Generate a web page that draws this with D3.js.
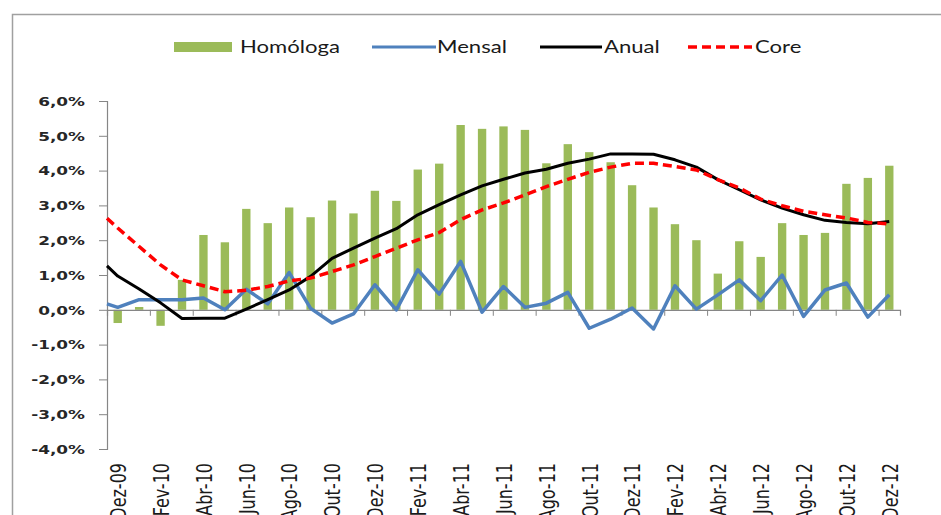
<!DOCTYPE html>
<html>
<head>
<meta charset="utf-8">
<script src="https://cdn.jsdelivr.net/npm/d3@7"></script>
<style>
  body { margin: 0; background: #fff; }
  svg { display: block; }
</style>
</head>
<body>
<svg id="chart" width="941" height="515"></svg>
<script>
// months Dez-09 .. Dez-12
const categories = [
  "Dez-09", "Jan-10", "Fev-10", "Mar-10", "Abr-10", "Mai-10", "Jun-10", "Jul-10", "Ago-10", "Set-10", "Out-10", "Nov-10",
  "Dez-10", "Jan-11", "Fev-11", "Mar-11", "Abr-11", "Mai-11", "Jun-11", "Jul-11", "Ago-11", "Set-11", "Out-11", "Nov-11",
  "Dez-11", "Jan-12", "Fev-12", "Mar-12", "Abr-12", "Mai-12", "Jun-12", "Jul-12", "Ago-12", "Set-12", "Out-12", "Nov-12",
  "Dez-12"
];

const homologa = [
  -0.38, 0.08, -0.46, 0.86, 2.15, 1.94, 2.90, 2.49, 2.94, 2.66,
  3.14, 2.77, 3.42, 3.13, 4.03, 4.20, 5.31, 5.20, 5.27, 5.17,
  4.21, 4.76, 4.53, 4.24, 3.58, 2.94, 2.46, 2.00, 1.04, 1.97,
  1.52, 2.49, 2.15, 2.21, 3.62, 3.79, 4.14
];

// lines start at the left edge of the plot with the Nov-09 value
const lineStart = "Nov-09";
const mensal = [
  0.17,
  0.07, 0.29, 0.29, 0.29, 0.34, 0.00, 0.59, 0.17, 1.07, 0.04,
  -0.38, -0.12, 0.72, 0.00, 1.15, 0.45, 1.39, -0.07, 0.67, 0.07,
  0.19, 0.50, -0.53, -0.27, 0.05, -0.55, 0.69, 0.02, 0.43, 0.86,
  0.26, 1.00, -0.19, 0.57, 0.77, -0.21, 0.43
];
const anual = [
  1.26,
  0.97, 0.60, 0.20, -0.25, -0.24, -0.24, 0.02, 0.29, 0.57, 0.96,
  1.48, 1.77, 2.06, 2.33, 2.73, 3.02, 3.30, 3.56, 3.75, 3.93,
  4.04, 4.21, 4.33, 4.48, 4.48, 4.47, 4.31, 4.10, 3.74, 3.45,
  3.16, 2.92, 2.73, 2.57, 2.51, 2.47, 2.54
];
const core = [
  2.63,
  2.35, 1.82, 1.29, 0.86, 0.69, 0.52, 0.56, 0.67, 0.83, 0.91,
  1.10, 1.29, 1.53, 1.77, 2.01, 2.22, 2.59, 2.87, 3.07, 3.30,
  3.54, 3.75, 3.95, 4.10, 4.21, 4.21, 4.12, 4.02, 3.74, 3.50,
  3.18, 2.99, 2.83, 2.73, 2.64, 2.51, 2.47
];

const yTicks = [6, 5, 4, 3, 2, 1, 0, -1, -2, -3, -4];
const yTickLabels = ["6,0%", "5,0%", "4,0%", "3,0%", "2,0%", "1,0%", "0,0%", "-1,0%", "-2,0%", "-3,0%", "-4,0%"];
const xTickLabels = categories.filter((d, i) => i % 2 === 0);

const legendNames = ["Homóloga", "Mensal", "Anual", "Core"];

const colors = { bar: "#9bbb59", mensal: "#4f81bd", anual: "#000000", core: "#ff0000" };
const SX = 1.3; // the original picture is stretched horizontally

const margin = { top: 101, left: 107 };
const innerWidth = 793;
const innerHeight = 348;

const svg = d3.select("#chart");

// chart frame
svg.append("rect")
  .attr("x", 12.5).attr("y", 14.5)
  .attr("width", 940).attr("height", 540)
  .attr("fill", "none")
  .attr("stroke", "#a0a0a0")
  .attr("stroke-width", 1.5);

const g = svg.append("g")
  .attr("transform", `translate(${margin.left},${margin.top})`);

const x = d3.scaleBand().domain(categories).range([0, innerWidth]);
const y = d3.scaleLinear().domain([-4, 6]).range([innerHeight, 0]);
const cx = c => x(c) + x.bandwidth() / 2;

// bars
const barW = x.bandwidth() * 0.39;
g.selectAll("rect.bar")
  .data(homologa)
  .join("rect")
  .attr("class", "bar")
  .attr("x", (d, i) => cx(categories[i]) - barW / 2)
  .attr("y", d => y(Math.max(0, d)))
  .attr("width", barW)
  .attr("height", d => Math.abs(y(d) - y(0)))
  .attr("fill", colors.bar);

// y axis
const yAxis = g.append("g")
  .call(d3.axisLeft(y).tickValues(yTicks).tickSize(8).tickFormat((d, i) => yTickLabels[i]));
yAxis.select(".domain").attr("stroke", "#868686").attr("stroke-width", 1.2);
yAxis.selectAll(".tick line").attr("stroke", "#868686");
yAxis.selectAll(".tick text")
  .attr("x", null).attr("dy", null)
  .attr("dominant-baseline", "central")
  .attr("transform", `translate(-22,0) scale(${SX},1)`)
  .attr("text-anchor", "end")
  .style("font-family", "'DejaVu Sans', sans-serif")
  .style("font-weight", "bold")
  .style("font-size", "13px")
  .attr("fill", "#262626");

// x axis on the zero line, ticks every two months
const xTick = d3.scaleLinear().domain([0, categories.length]).range([0, innerWidth]);
const xAxis = g.append("g")
  .attr("transform", `translate(0,${y(0)})`)
  .call(d3.axisBottom(xTick).tickValues(d3.range(0, categories.length, 2)).tickSize(6).tickFormat(""));
xAxis.select(".domain").attr("stroke", "#868686").attr("stroke-width", 1.2);
xAxis.selectAll(".tick line").attr("stroke", "#868686");

// category labels below the plot (cut by the bottom edge, as in the original)
g.append("g")
  .selectAll("text")
  .data(xTickLabels)
  .join("text")
  .attr("transform", d => `translate(${cx(d) + 1},${innerHeight + 14}) scale(${SX},1) rotate(-90)`)
  .attr("text-anchor", "end")
  .attr("dominant-baseline", "central")
  .style("font-family", "'DejaVu Sans', sans-serif")
  .style("font-size", "16px")
  .attr("fill", "#1a1a1a")
  .text(d => d);

// lines
const lineCats = [lineStart].concat(categories);
const lx = (d, i) => (i === 0 ? 0 : cx(lineCats[i]));
const line = d3.line().x(lx).y(d => y(d));

g.append("path").datum(mensal)
  .attr("d", line).attr("fill", "none")
  .attr("stroke", colors.mensal).attr("stroke-width", 3.5)
  .attr("stroke-linejoin", "round");
g.append("path").datum(anual)
  .attr("d", line).attr("fill", "none")
  .attr("stroke", colors.anual).attr("stroke-width", 3)
  .attr("stroke-linejoin", "round");
g.append("path").datum(core)
  .attr("d", line).attr("fill", "none")
  .attr("stroke", colors.core).attr("stroke-width", 3.5)
  .attr("stroke-dasharray", "9,5");

// legend
const legendY = 47;
const legendItems = [
  { name: legendNames[0], type: "bar", color: colors.bar, x0: 174, x1: 232, tx: 240 },
  { name: legendNames[1], type: "line", color: colors.mensal, x0: 372, x1: 436, tx: 437 },
  { name: legendNames[2], type: "line", color: colors.anual, x0: 540, x1: 602, tx: 604 },
  { name: legendNames[3], type: "dash", color: colors.core, x0: 688, x1: 752, tx: 755 }
];
const legend = svg.append("g");
legendItems.forEach(item => {
  if (item.type === "bar") {
    legend.append("rect")
      .attr("x", item.x0).attr("y", legendY - 5)
      .attr("width", item.x1 - item.x0).attr("height", 10)
      .attr("fill", item.color);
  } else {
    legend.append("line")
      .attr("x1", item.x0).attr("x2", item.x1)
      .attr("y1", legendY).attr("y2", legendY)
      .attr("stroke", item.color)
      .attr("stroke-width", item.type === "dash" ? 3.5 : 3)
      .attr("stroke-dasharray", item.type === "dash" ? "9,5" : null);
  }
  legend.append("text")
    .attr("transform", `translate(${item.tx},${legendY + 6}) scale(${SX},1)`)
    .style("font-family", "Lato, sans-serif")
    .style("font-size", "17px")
    .attr("fill", "#1a1a1a")
    .text(item.name);
});
</script>
</body>
</html>
